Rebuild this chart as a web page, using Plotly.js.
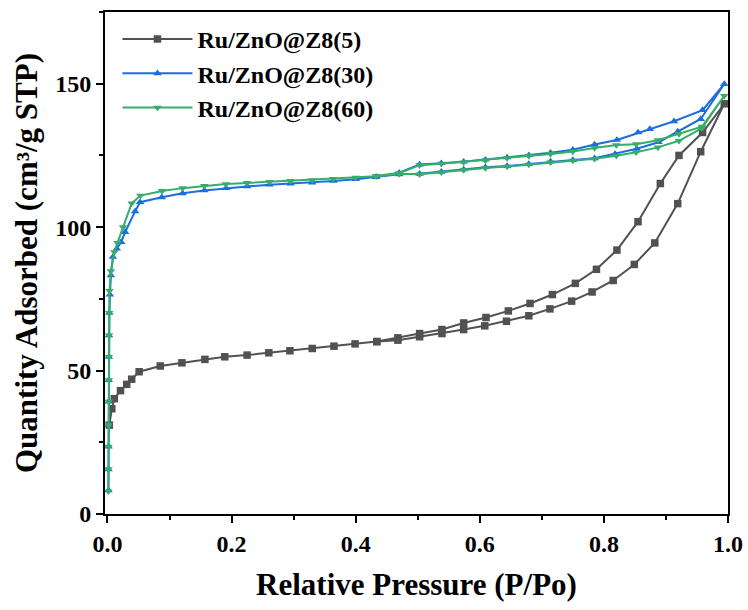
<!DOCTYPE html>
<html>
<head>
<meta charset="utf-8">
<script src="https://cdn.plot.ly/plotly-3.0.1.min.js"></script>
<style>html,body{margin:0;padding:0;background:#fff;}#chart{width:748px;height:610px;}</style>
</head>
<body>
<div id="chart"></div>
<script>
// Ru/ZnO@Z8(5): adsorption then desorption branch
const z5AdsX = [0.003, 0.007, 0.011, 0.021, 0.031, 0.039, 0.051, 0.085, 0.120, 0.157, 0.189, 0.225, 0.260, 0.294, 0.330, 0.365, 0.399, 0.434, 0.468, 0.503, 0.539, 0.574, 0.608, 0.643, 0.679, 0.713, 0.748, 0.781, 0.815, 0.849, 0.882, 0.919, 0.956, 0.994];
const z5AdsY = [31.0, 36.7, 40.2, 43.0, 45.2, 47.0, 49.6, 51.6, 52.7, 53.9, 54.8, 55.4, 56.2, 56.9, 57.7, 58.5, 59.3, 60.1, 60.6, 61.8, 62.9, 64.3, 65.6, 67.2, 69.1, 71.5, 74.2, 77.4, 81.4, 87.0, 94.5, 108.2, 126.3, 143.0];
const z5DesX = [0.959, 0.921, 0.891, 0.855, 0.821, 0.788, 0.754, 0.717, 0.681, 0.646, 0.610, 0.574, 0.539, 0.503, 0.468, 0.434];
const z5DesY = [133.0, 125.0, 115.2, 101.9, 92.0, 85.3, 80.4, 76.5, 73.4, 70.8, 68.5, 66.6, 64.3, 62.9, 61.4, 60.1];

// Ru/ZnO@Z8(30)
const z30AdsX = [0.0015, 0.0016, 0.0017, 0.0018, 0.0019, 0.0020, 0.0022, 0.0025, 0.0030, 0.0040, 0.0055, 0.0087, 0.015, 0.022, 0.0285, 0.0445, 0.0525, 0.0875, 0.121, 0.156, 0.191, 0.225, 0.261, 0.295, 0.330, 0.364, 0.400, 0.433, 0.470, 0.503, 0.538, 0.574, 0.609, 0.644, 0.679, 0.714, 0.750, 0.785, 0.818, 0.853, 0.888, 0.919, 0.956, 0.994];
const z30AdsY = [8.2, 15.6, 23.5, 31.0, 39.2, 46.7, 54.8, 62.3, 70.1, 76.5, 83.2, 89.6, 92.5, 94.8, 98.3, 105.5, 108.7, 110.4, 111.8, 112.8, 113.6, 114.2, 114.8, 115.2, 115.5, 116.1, 116.7, 117.4, 118.4, 118.6, 119.3, 120.1, 120.9, 121.3, 122.0, 122.9, 123.4, 124.0, 125.5, 127.3, 129.6, 133.3, 137.7, 149.9];
const z30DesX = [0.959, 0.913, 0.874, 0.855, 0.821, 0.785, 0.750, 0.714, 0.679, 0.644, 0.609, 0.574, 0.538, 0.503, 0.470, 0.433];
const z30DesY = [140.8, 136.9, 134.2, 133.0, 130.4, 128.8, 127.0, 125.9, 125.1, 124.3, 123.5, 122.8, 122.3, 121.8, 119.0, 117.6];

// Ru/ZnO@Z8(60)
const z60AdsX = [0.0015, 0.0016, 0.0017, 0.0018, 0.0019, 0.0020, 0.0022, 0.0025, 0.0028, 0.0032, 0.0055, 0.011, 0.016, 0.025, 0.039, 0.053, 0.088, 0.121, 0.156, 0.191, 0.225, 0.261, 0.295, 0.330, 0.364, 0.400, 0.433, 0.470, 0.503, 0.538, 0.574, 0.609, 0.644, 0.679, 0.714, 0.750, 0.785, 0.820, 0.852, 0.887, 0.921, 0.958, 0.994];
const z60AdsY = [7.9, 15.6, 23.5, 31.0, 39.2, 46.7, 54.8, 62.3, 70.1, 77.8, 84.7, 91.3, 94.5, 100.0, 108.3, 111.0, 112.6, 113.6, 114.4, 115.0, 115.4, 115.8, 116.1, 116.4, 116.8, 117.3, 117.7, 118.6, 118.4, 119.1, 119.9, 120.6, 121.1, 121.8, 122.6, 123.2, 123.8, 124.9, 126.1, 127.8, 130.1, 134.5, 145.8];
const z60DesX = [0.958, 0.921, 0.887, 0.852, 0.820, 0.785, 0.750, 0.714, 0.679, 0.644, 0.609, 0.574, 0.538, 0.503, 0.470, 0.433];
const z60DesY = [135.0, 132.5, 130.3, 128.9, 128.6, 127.6, 126.4, 125.5, 124.8, 124.1, 123.3, 122.6, 122.1, 121.6, 118.8, 117.9];

const seriesNames = ['Ru/ZnO@Z8(5)', 'Ru/ZnO@Z8(30)', 'Ru/ZnO@Z8(60)'];
const xTickVals = [0, 0.2, 0.4, 0.6, 0.8, 1.0];
const yTickVals = [0, 50, 100, 150];

const colors = ['#515151', '#1A6FDF', '#37AD6B'];
const symbols = ['square', 'triangle-up', 'triangle-down'];

function mk(i, ax, ay, dx, dy) {
  return {
    x: ax.concat(dx),
    y: ay.concat(dy),
    type: 'scatter',
    mode: 'lines+markers',
    name: seriesNames[i],
    line: {color: colors[i], width: 2},
    marker: {color: colors[i], symbol: symbols[i], size: 7.5},
    cliponaxis: false
  };
}

const data = [
  mk(0, z5AdsX, z5AdsY, z5DesX, z5DesY),
  mk(1, z30AdsX, z30AdsY, z30DesX, z30DesY),
  mk(2, z60AdsX, z60AdsY, z60DesX, z60DesY)
];

const FONT = '"Liberation Serif", "Times New Roman", serif';

const layout = {
  width: 748, height: 610,
  margin: {l: 105, r: 20, t: 12, b: 96},
  paper_bgcolor: '#fff', plot_bgcolor: '#fff',
  font: {family: FONT, color: '#000'},
  showlegend: true,
  legend: {
    x: 0.02, y: 0.99, xanchor: 'left', yanchor: 'top',
    bgcolor: 'rgba(0,0,0,0)',
    font: {family: FONT, size: 24, color: '#000', weight: 'bold'},
    itemwidth: 70, tracegroupgap: 0
  },
  xaxis: {
    range: [-0.004, 1.0],
    tickvals: xTickVals,
    tickformat: '.1f',
    ticks: 'outside', ticklen: 7, tickwidth: 2, tickcolor: '#000',
    minor: {dtick: 0.1, tick0: 0, ticks: 'outside', ticklen: 4, tickwidth: 2, tickcolor: '#000'},
    showline: true, linewidth: 2, linecolor: '#000', mirror: true,
    showgrid: false, zeroline: false,
    tickfont: {family: FONT, size: 24, color: '#000', weight: 'bold'},
    title: {text: 'Relative Pressure (P/Po)', font: {family: FONT, size: 31, color: '#000', weight: 'bold'}, standoff: 18}
  },
  yaxis: {
    range: [0, 175],
    tickvals: yTickVals,
    ticks: 'outside', ticklen: 7, tickwidth: 2, tickcolor: '#000',
    minor: {dtick: 25, tick0: 0, ticks: 'outside', ticklen: 4, tickwidth: 2, tickcolor: '#000'},
    showline: true, linewidth: 2, linecolor: '#000', mirror: true,
    showgrid: false, zeroline: false,
    tickfont: {family: FONT, size: 24, color: '#000', weight: 'bold'},
    title: {text: 'Quantity Adsorbed (cm³/g STP)', font: {family: FONT, size: 31, color: '#000', weight: 'bold'}, standoff: 8}
  }
};

Plotly.newPlot('chart', data, layout, {displayModeBar: false, staticPlot: true});
</script>
</body>
</html>
